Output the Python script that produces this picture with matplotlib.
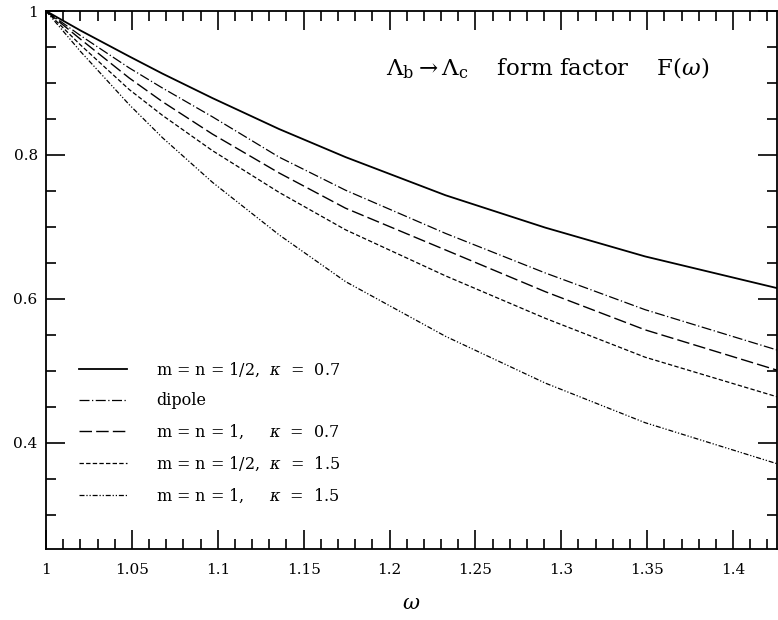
import numpy as np
import matplotlib.pyplot as plt
from matplotlib.ticker import MultipleLocator, FuncFormatter

# values
omega = [1.0, 1.02, 1.0484, 1.0678, 1.0969, 1.1357, 1.1744, 1.2326, 1.2907, 1.3488, 1.4256]
f_half_07 = [1.0, 0.973, 0.937, 0.913, 0.879, 0.836, 0.797, 0.744, 0.699, 0.659, 0.615]
f_dipole = [1.0, 0.966, 0.921, 0.893, 0.853, 0.797, 0.751, 0.691, 0.636, 0.585, 0.529]
f_one_07 = [1.0, 0.961, 0.907, 0.874, 0.829, 0.775, 0.726, 0.668, 0.610, 0.557, 0.501]
f_half_15 = [1.0, 0.953, 0.891, 0.855, 0.806, 0.748, 0.696, 0.632, 0.573, 0.519, 0.464]
f_one_15 = [1.0, 0.944, 0.870, 0.824, 0.762, 0.689, 0.624, 0.548, 0.483, 0.428, 0.371]

labels = [r'm = n = 1/2,  $\kappa$  =  0.7',
          'dipole',
          r'm = n = 1,     $\kappa$  =  0.7',
          r'm = n = 1/2,  $\kappa$  =  1.5',
          r'm = n = 1,     $\kappa$  =  1.5']

plt.rcParams['font.family'] = ['DejaVu Serif']
plt.rcParams['mathtext.fontset'] = 'dejavuserif'

fig = plt.figure(figsize=(7.78, 6.2), dpi=100)
ax = fig.add_axes([46/778, 1-549/620, (777-46)/778, (549-11)/620])

k = dict(color='black')
ax.plot(omega, f_half_07, '-', lw=1.3, label=labels[0], **k)
ax.plot(omega, f_dipole, lw=0.9, dashes=(8, 2, 1, 2), label=labels[1], **k)
ax.plot(omega, f_one_07, lw=1.0, dashes=(9, 3), label=labels[2], **k)
ax.plot(omega, f_half_15, lw=0.9, dashes=(3.5, 1.8), label=labels[3], **k)
ax.plot(omega, f_one_15, lw=0.9, dashes=(4, 1.5, 1, 1.5, 1, 1.5), label=labels[4], **k)

ax.set_xlim(1.0, 1.4256)
ax.set_ylim(0.2525, 1.0)

ax.xaxis.set_major_locator(MultipleLocator(0.05))
ax.xaxis.set_minor_locator(MultipleLocator(0.01))
ax.yaxis.set_major_locator(MultipleLocator(0.2))
ax.yaxis.set_minor_locator(MultipleLocator(0.05))
fmt = FuncFormatter(lambda v, p: '%g' % round(v, 3))
ax.xaxis.set_major_formatter(fmt)
ax.yaxis.set_major_formatter(fmt)

ax.tick_params(which='both', direction='in', top=True, right=True, width=1.2, labelsize=11)
ax.tick_params(which='major', length=14)
ax.tick_params(which='minor', length=7)
ax.tick_params(axis='x', which='major', pad=10)
ax.tick_params(axis='y', which='major', pad=6)
for s in ax.spines.values():
    s.set_linewidth(1.3)

ax.set_xlabel(r'$\omega$', fontsize=15, labelpad=12)

ax.text(0.908, 0.894, r'$\Lambda_{\rm b} \rightarrow \Lambda_{\rm c}$    form factor    F($\omega$)',
        transform=ax.transAxes, ha='right', va='center', fontsize=16.5)

ax.legend(loc='lower left', bbox_to_anchor=(0.026, 0.055), frameon=False,
          fontsize=11.5, handlelength=3.0, handletextpad=1.8, labelspacing=0.85)

fig.savefig('out.png', dpi=100)
